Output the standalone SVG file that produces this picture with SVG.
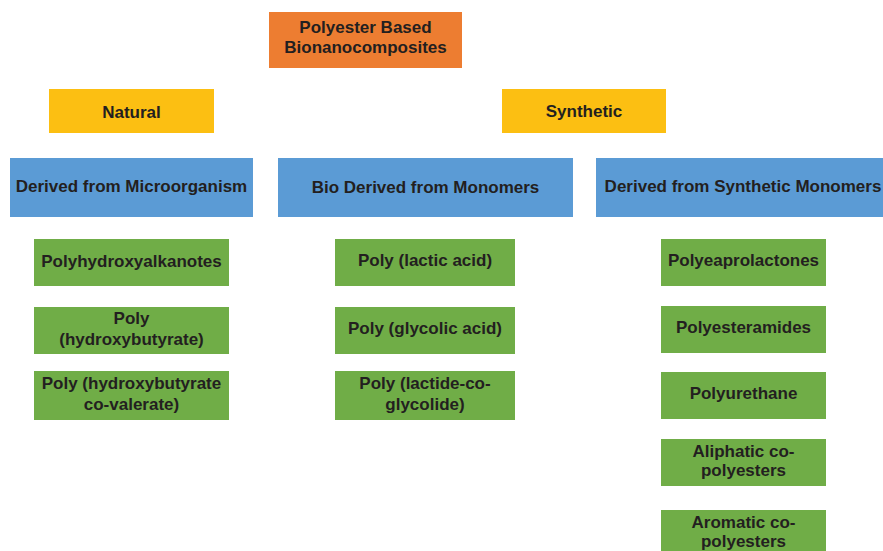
<svg xmlns="http://www.w3.org/2000/svg" width="883" height="551" viewBox="0 0 883 551">
  <style>
    text { font-family: "Liberation Sans", Arial, sans-serif; font-weight: bold; font-size: 17px; fill: #231f20; text-anchor: middle; }
    .root { fill: #ED7D31; }
    .cat { fill: #FCBF12; }
    .src { fill: #5B9BD5; }
    .leaf { fill: #70AD47; }
  </style>
  <rect width="883" height="551" fill="#ffffff"/>

  <g id="root">
    <rect class="root" x="269" y="12" width="193" height="56"/>
    <text x="365.5" y="33">Polyester Based</text>
    <text x="365.5" y="53">Bionanocomposites</text>
  </g>

  <g id="natural">
    <rect class="cat" x="49" y="89" width="165" height="44"/>
    <text x="131.5" y="117.5">Natural</text>
  </g>
  <g id="synthetic">
    <rect class="cat" x="502" y="89" width="164" height="44"/>
    <text x="584" y="116.5">Synthetic</text>
  </g>

  <g id="microorganism">
    <rect class="src" x="10" y="158" width="243" height="59"/>
    <text x="131.5" y="192">Derived from Microorganism</text>
  </g>
  <g id="bio-monomers">
    <rect class="src" x="278" y="158" width="295" height="59"/>
    <text x="425.5" y="193">Bio Derived from Monomers</text>
  </g>
  <g id="synthetic-monomers">
    <rect class="src" x="596" y="158" width="290" height="59"/>
    <text x="743" y="192">Derived from Synthetic Monomers</text>
  </g>

  <!-- column 1 -->
  <g id="pha">
    <rect class="leaf" x="34" y="239" width="195" height="47"/>
    <text x="131.5" y="267">Polyhydroxyalkanotes</text>
  </g>
  <g id="phb">
    <rect class="leaf" x="34" y="307" width="195" height="47"/>
    <text x="131.5" y="324">Poly</text>
    <text x="131.5" y="345">(hydroxybutyrate)</text>
  </g>
  <g id="phbv">
    <rect class="leaf" x="34" y="371" width="195" height="49"/>
    <text x="131.5" y="389">Poly (hydroxybutyrate</text>
    <text x="131.5" y="410">co-valerate)</text>
  </g>

  <!-- column 2 -->
  <g id="pla">
    <rect class="leaf" x="335" y="239" width="180" height="47"/>
    <text x="425" y="266">Poly (lactic acid)</text>
  </g>
  <g id="pga">
    <rect class="leaf" x="335" y="307" width="180" height="47"/>
    <text x="425" y="334">Poly (glycolic acid)</text>
  </g>
  <g id="plga">
    <rect class="leaf" x="335" y="371" width="180" height="49"/>
    <text x="425" y="389">Poly (lactide-co-</text>
    <text x="425" y="410">glycolide)</text>
  </g>

  <!-- column 3 -->
  <g id="pcl">
    <rect class="leaf" x="661" y="239" width="165" height="47"/>
    <text x="743.5" y="266">Polyeaprolactones</text>
  </g>
  <g id="pea">
    <rect class="leaf" x="661" y="306" width="165" height="47"/>
    <text x="743.5" y="333">Polyesteramides</text>
  </g>
  <g id="pu">
    <rect class="leaf" x="661" y="372" width="165" height="47"/>
    <text x="743.5" y="399">Polyurethane</text>
  </g>
  <g id="aliphatic">
    <rect class="leaf" x="661" y="439" width="165" height="47"/>
    <text x="743.5" y="456.5">Aliphatic co-</text>
    <text x="743.5" y="476">polyesters</text>
  </g>
  <g id="aromatic">
    <rect class="leaf" x="661" y="510" width="165" height="45"/>
    <text x="743.5" y="527.5">Aromatic co-</text>
    <text x="743.5" y="546.5">polyesters</text>
  </g>

  <g id="connectors"/>
</svg>
